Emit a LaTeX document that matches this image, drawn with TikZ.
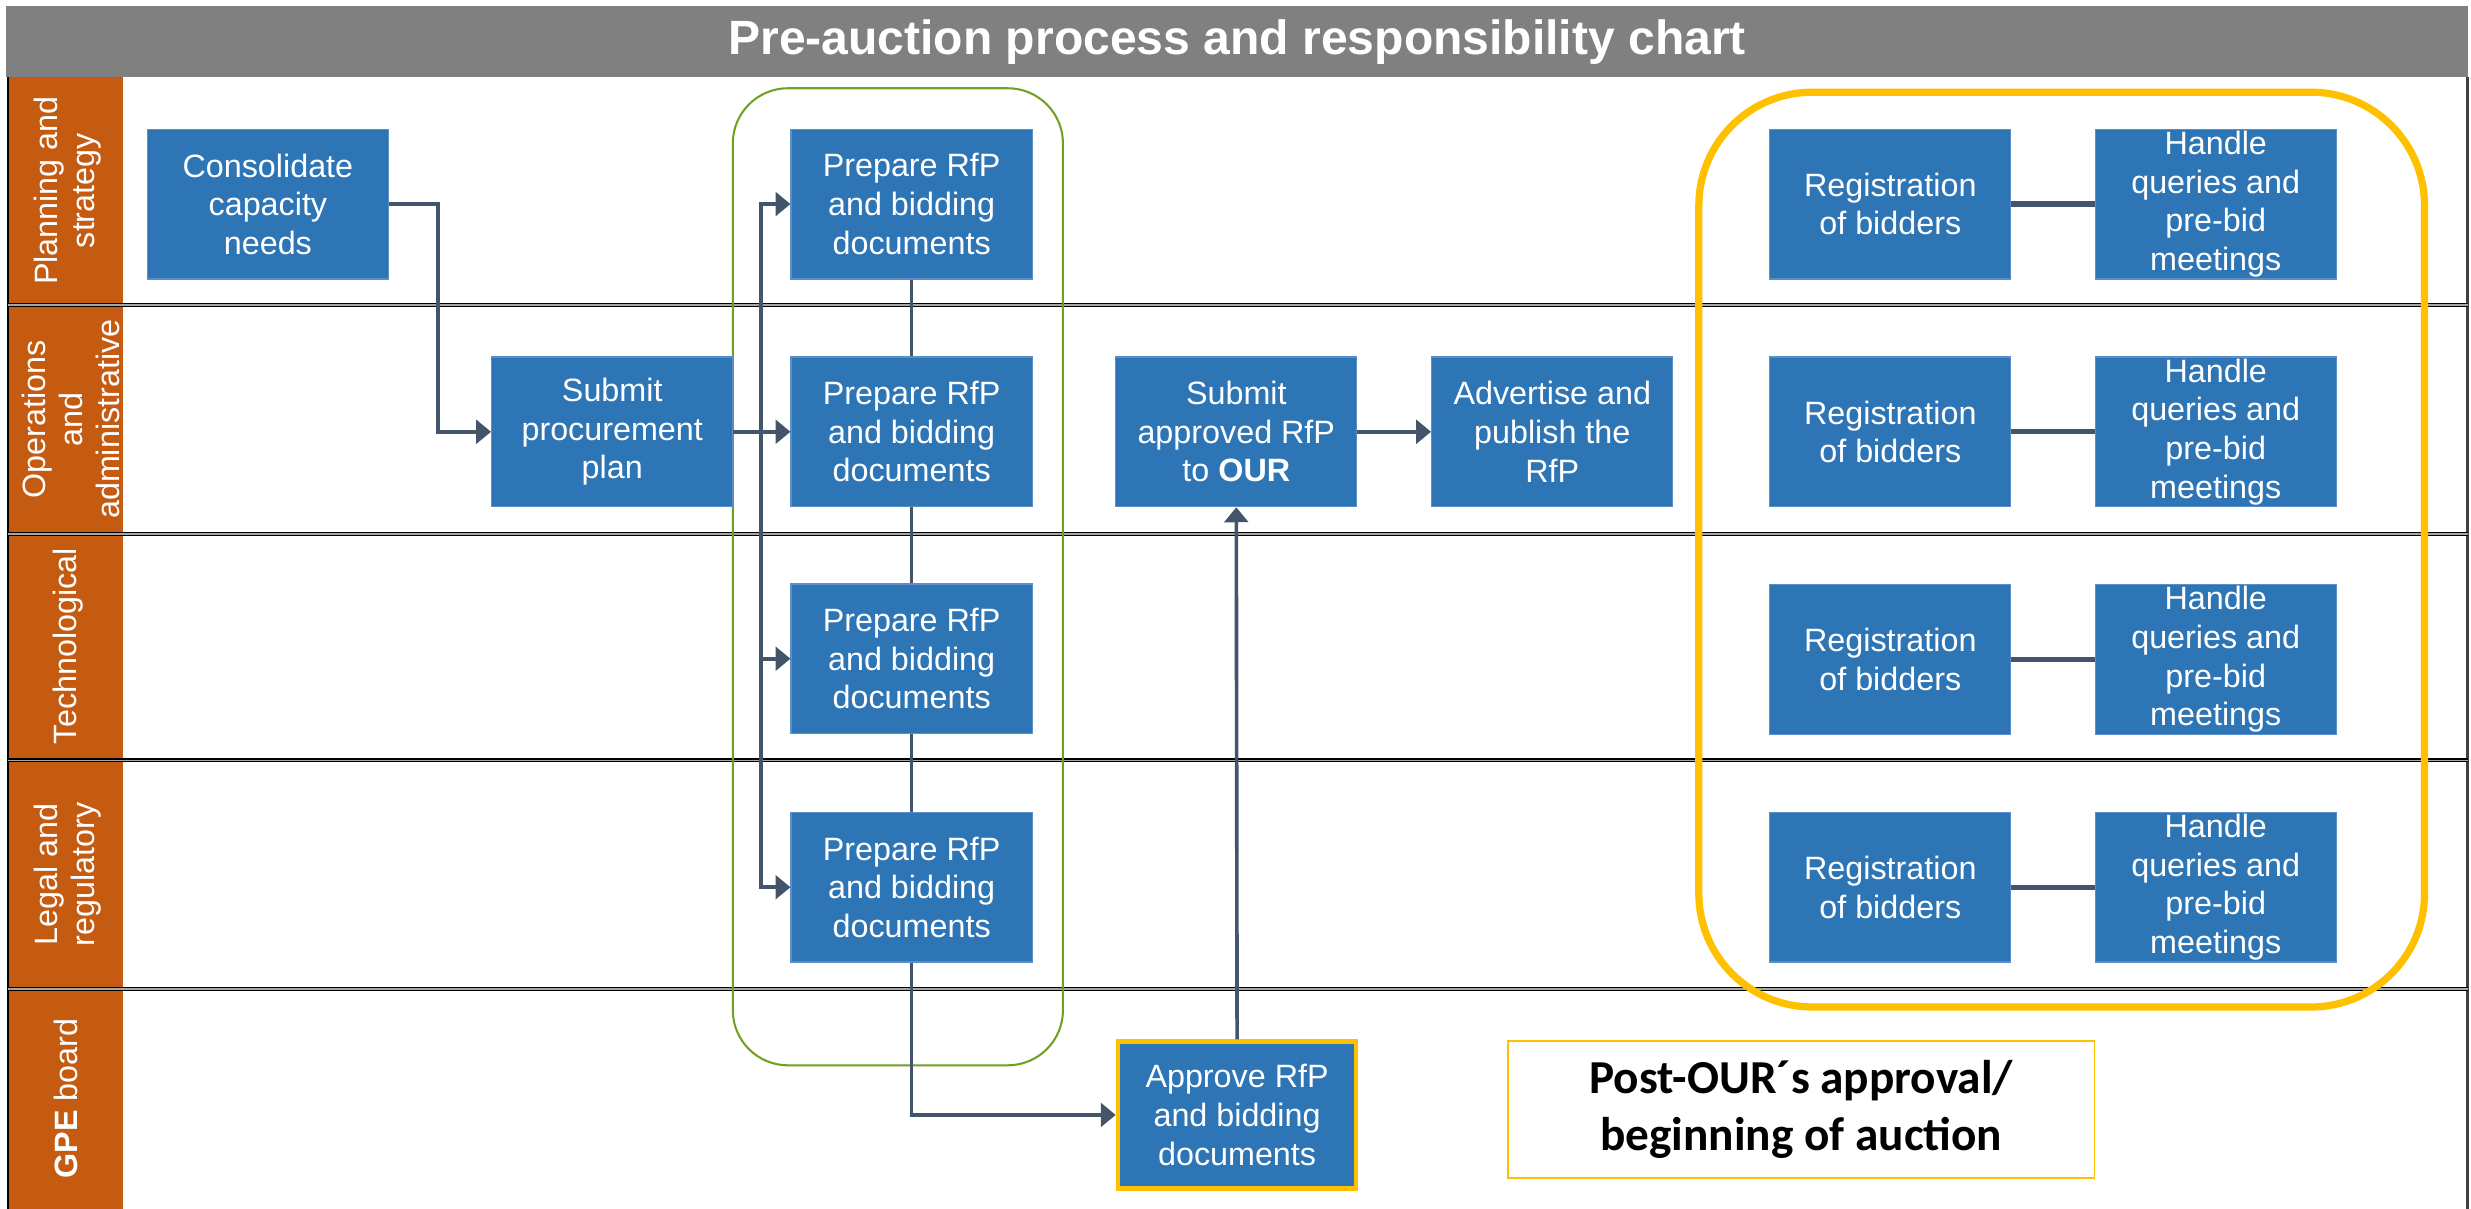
\documentclass[tikz,border=0pt]{standalone}
\usepackage{fontspec}
\setmainfont{Liberation Sans}
\newfontfamily\calfont{Carlito}
\usetikzlibrary{arrows.meta}

\definecolor{boxblue}{HTML}{2E75B6}
\definecolor{boxedge}{HTML}{5A8FCB}
\definecolor{laneorange}{HTML}{C55A11}
\definecolor{titlegrey}{HTML}{808080}
\definecolor{linkcol}{HTML}{44546A}
\definecolor{hiyellow}{HTML}{FFC000}
\definecolor{grpgreen}{HTML}{70A020}

\tikzset{
  task/.style={rectangle, fill=boxblue, draw=boxedge, line width=0.8pt,
    minimum width=153pt, minimum height=95pt, inner sep=0pt, align=center,
    text=white, font=\fontsize{20.5}{24.5}\selectfont},
  keytask/.style={task, draw=hiyellow, line width=3pt},
  lanelabel/.style={rotate=90, align=center, text=white, inner sep=0pt,
    font=\fontsize{20.5}{23.5}\selectfont},
  flow/.style={draw=linkcol, line width=2.3pt,
    -{Triangle[length=9.5pt,width=15pt]}},
  link/.style={draw=linkcol, line width=2.3pt},
  pairlink/.style={draw=linkcol, line width=3.4pt},
  lanesep/.style={draw=black, line width=0.7pt, double=gray!70, double distance=1pt},
}

\begin{document}
\begin{tikzpicture}[x=1pt,y=-1pt]
\useasboundingbox (0,0) rectangle (1568,767);

% title bar
\fill[titlegrey] (4,4) rectangle (1566,48.6);
\node[text=white, font=\bfseries\fontsize{30.5}{34}\selectfont, inner sep=0pt]
  (title) at (785,27) {Pre-auction process and responsibility chart};

% lane header column and borders
\fill[laneorange] (5,48.6) rectangle (78,767);
\draw[black, line width=1pt] (5,48.6) -- (5,767);
\draw[black!75, line width=2pt] (1566,48.6) -- (1566,767);
\foreach \yy in {193.5,339,482.5,627.5}
  \draw[lanesep] (5,\yy) -- (1566,\yy);

% lane labels
\node[lanelabel] (lplan) at (43,121) {Planning and\\strategy};
\node[lanelabel] (lops)  at (45,266) {Operations\\and\\administrative};
\node[lanelabel] (ltech) at (43,410) {Technological};
\node[lanelabel] (llegal) at (43,555) {Legal and\\regulatory};
\node[lanelabel] (lgpe)  at (42,697) {\textbf{GPE} board};

% grouping frames
\draw[grpgreen, line width=1.3pt, rounded corners=35pt] (465,56) rectangle (674.5,676);
\draw[hiyellow, line width=4.6pt, rounded corners=72pt] (1078,58.5) rectangle (1538.5,639);

% process steps
\node[task] (cons)  at (170,129.5) {Consolidate\\capacity\\needs};
\node[task] (prep1) at (578.5,129.5) {Prepare RfP\\and bidding\\documents};
\node[task] (subm)  at (388.5,274) {Submit\\procurement\\plan};
\node[task] (prep2) at (578.5,274) {Prepare RfP\\and bidding\\documents};
\node[task] (prep3) at (578.5,418) {Prepare RfP\\and bidding\\documents};
\node[task] (prep4) at (578.5,563) {Prepare RfP\\and bidding\\documents};
\node[keytask, minimum width=151pt, minimum height=93pt] (appr) at (785,707.5)
  {Approve RfP\\and bidding\\documents};
\node[task] (sapp)  at (784.5,274) {Submit\\approved RfP\\to \textbf{OUR}};
\node[task] (adv)   at (985,274) {Advertise and\\publish the\\RfP};

\foreach \r/\yy in {1/129.5,2/274,3/418.5,4/563}{
  \node[task] (reg\r)  at (1199.5,\yy) {Registration\\of bidders};
  \node[task] (hand\r) at (1406,\yy) {\rule{0pt}{5pt}Handle\\queries and\\pre-bid\\meetings};
}

% note
\node[draw=hiyellow, line width=1pt, minimum width=372pt, minimum height=87pt,
  align=center, inner sep=0pt, font=\calfont\bfseries\fontsize{30}{36}\selectfont]
  (post) at (1143,704) {Post-OUR´s approval/\\beginning of auction};

% connectors
\coordinate (tr) at (483,274);
\draw[flow] (cons.east) -- ++(31,0) |- (subm.west);
\draw[link] (subm.east) -- (tr);
\draw[flow] (tr) -- (prep2.west);
\draw[flow] (tr) |- (prep1.west);
\draw[flow] (tr) |- (prep4.west);
\draw[flow] (tr |- prep3.west) -- (prep3.west);
\draw[link] (prep1.south) -- (prep2.north);
\draw[link] (prep2.south) -- (prep3.north);
\draw[link] (prep3.south) -- (prep4.north);
\draw[flow] (prep4.south) |- (appr.west);
\draw[flow] (appr.north) -- (sapp.south);
\draw[flow] (sapp.east) -- (adv.west);
\foreach \r in {1,2,3,4}
  \draw[pairlink] (reg\r.east) -- (hand\r.west);

\end{tikzpicture}
\end{document}
